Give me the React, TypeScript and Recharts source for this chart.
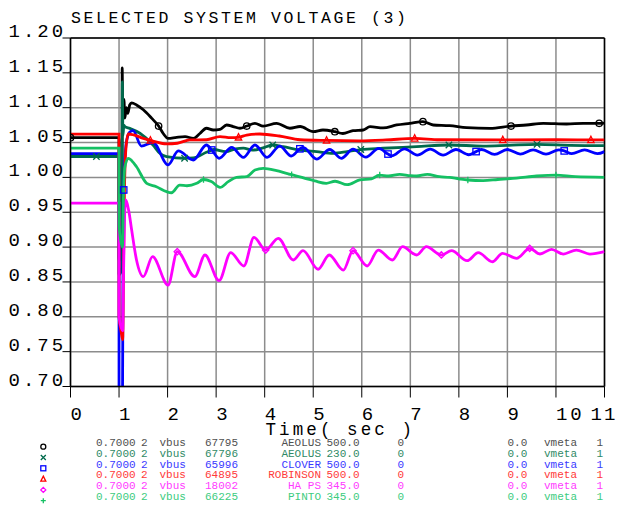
import React from "react";
import { LineChart, Line, XAxis, YAxis, CartesianGrid, ReferenceLine, Legend } from "recharts";

const TITLE = "SELECTED SYSTEM VOLTAGE (3)";
const X_LABEL = "Time( sec )";
const xTicks = [0, 1, 2, 3, 4, 5, 6, 7, 8, 9, 10, 11];
const yTicks = [0.7, 0.75, 0.8, 0.85, 0.9, 0.95, 1.0, 1.05, 1.1, 1.15, 1.2];

type P = [number, number];

// AEOLUS 500.0 (black, circles)
const aeolus500: P[] = [
  [0, 1.057], [0.999, 1.057], [1.0, 0.88], [1.06, 0.9], [1.065, 1.157], [1.075, 1.09], [1.1, 1.112],
  [1.12, 1.085], [1.15, 1.1], [1.18, 1.092], [1.22, 1.104], [1.26, 1.107], [1.36, 1.104], [1.5, 1.097],
  [1.67, 1.085], [1.815, 1.0737], [1.91, 1.063], [2.01, 1.056], [2.185, 1.0575], [2.36, 1.0585],
  [2.53, 1.056], [2.665, 1.063], [2.8, 1.0705], [2.94, 1.068], [3.08, 1.069], [3.215, 1.0752],
  [3.35, 1.073], [3.49, 1.0705], [3.63, 1.0737], [3.8, 1.0776], [3.97, 1.0735], [4.245, 1.0776],
  [4.52, 1.0705], [4.73, 1.073], [5.0, 1.0656], [5.2, 1.068], [5.445, 1.0656], [5.61, 1.063],
  [5.82, 1.067], [6.03, 1.068], [6.17, 1.0728], [6.44, 1.071], [6.72, 1.0752], [6.99, 1.0776],
  [7.26, 1.08], [7.47, 1.0752], [7.81, 1.0743], [8.16, 1.0714], [8.64, 1.0704], [9.075, 1.0737],
  [9.39, 1.0752], [9.74, 1.0776], [10.22, 1.0766], [10.56, 1.0776], [10.89, 1.0776], [11.0, 1.078],
];
const aeolus500Marks = [0, 1.815, 3.63, 5.445, 7.26, 9.075, 10.89];

// AEOLUS 230.0 (dark green, x)
const aeolus230: P[] = [
  [0, 1.03], [0.534, 1.03], [0.999, 1.03], [1.0, 0.86], [1.06, 0.87], [1.068, 1.137], [1.08, 1.06],
  [1.1, 1.075], [1.12, 1.0728], [1.22, 1.0704], [1.43, 1.0633], [1.7, 1.0465], [1.84, 1.0346],
  [1.98, 1.0297], [2.35, 1.0275], [2.53, 1.028], [2.8, 1.036], [2.95, 1.04], [3.2, 1.037], [3.4, 1.041],
  [3.56, 1.042], [3.75, 1.039], [3.95, 1.042], [4.165, 1.0465], [4.38, 1.044], [4.72, 1.0393],
  [5.07, 1.037], [5.41, 1.0346], [5.7, 1.037], [5.98, 1.04], [6.44, 1.0418], [7.13, 1.0441],
  [7.795, 1.0465], [8.5, 1.045], [9.0, 1.046], [9.61, 1.0475], [10.3, 1.046], [11.0, 1.0455],
];
const aeolus230Marks = [0.534, 2.35, 4.165, 5.98, 7.795, 9.61];

// CLOVER 500.0 (blue, squares)
const clover500: P[] = [
  [0, 1.034], [0.999, 1.034], [1.0, 0.66], [1.07, 0.66], [1.08, 0.85], [1.096, 0.982], [1.15, 1.05],
  [1.22, 1.065], [1.29, 1.067], [1.46, 1.045], [1.7, 1.05], [2.01, 1.018], [2.22, 1.038], [2.53, 1.025],
  [2.8, 1.0465], [2.91, 1.0393], [3.06, 1.0274], [3.32, 1.043], [3.56, 1.0288], [3.8, 1.0465],
  [4.05, 1.0288], [4.31, 1.045], [4.55, 1.0307], [4.725, 1.041], [4.79, 1.0432], [5.07, 1.0262],
  [5.34, 1.04], [5.58, 1.0274], [5.82, 1.0405], [6.085, 1.029], [6.35, 1.0415], [6.54, 1.0335],
  [6.615, 1.031], [6.88, 1.041], [7.145, 1.032], [7.41, 1.0405], [7.675, 1.032], [7.94, 1.04],
  [8.205, 1.0325], [8.355, 1.037], [8.47, 1.04], [8.735, 1.033], [9.0, 1.04], [9.265, 1.0335],
  [9.53, 1.0395], [9.795, 1.0335], [10.06, 1.0395], [10.17, 1.038], [10.325, 1.034], [10.59, 1.0395],
  [10.855, 1.034], [11.0, 1.037],
];
const clover500Marks = [1.096, 2.91, 4.725, 6.54, 8.355, 10.17];

// ROBINSON 500.0 (red, triangles)
const robinson500: P[] = [
  [0, 1.062], [0.999, 1.062], [1.0, 0.8], [1.04, 0.78], [1.075, 0.767], [1.09, 0.86], [1.11, 0.975],
  [1.14, 1.04], [1.19, 1.0623], [1.3, 1.061], [1.5, 1.056], [1.646, 1.053], [1.98, 1.048], [2.2, 1.049],
  [2.46, 1.0537], [2.8, 1.054], [3.08, 1.0585], [3.3, 1.057], [3.46, 1.0575], [3.63, 1.0608],
  [3.9, 1.0623], [4.3, 1.0594], [4.73, 1.054], [5.275, 1.053], [5.95, 1.0525], [6.5, 1.0537],
  [7.09, 1.056], [7.6, 1.054], [8.905, 1.0537], [10.0, 1.054], [10.72, 1.0537], [11.0, 1.0537],
];
const robinson500Marks = [1.646, 3.46, 5.275, 7.09, 8.905, 10.72];

// HA PS 345.0 (magenta, diamonds)
const haPs345: P[] = [
  [0, 0.963], [0.999, 0.963], [1.0, 0.8], [1.075, 0.78], [1.09, 0.85], [1.12, 0.955], [1.14, 0.9676],
  [1.2, 0.952], [1.26, 0.9245], [1.36, 0.8815], [1.5, 0.8576], [1.69, 0.8862], [2.01, 0.8456],
  [2.2, 0.8934], [2.56, 0.8576], [2.77, 0.8887], [3.06, 0.8518], [3.3, 0.892], [3.57, 0.8729],
  [3.78, 0.914], [4.02, 0.8958], [4.28, 0.9126], [4.59, 0.8815], [4.79, 0.8949], [5.1, 0.8682],
  [5.33, 0.8887], [5.62, 0.867], [5.82, 0.8949], [6.11, 0.8729], [6.34, 0.8958], [6.63, 0.8815],
  [6.84, 0.9006], [7.13, 0.8887], [7.33, 0.9006], [7.64, 0.8887], [7.85, 0.8949], [8.17, 0.8805],
  [8.4, 0.892], [8.69, 0.879], [8.9, 0.8911], [9.19, 0.8839], [9.46, 0.8983], [9.67, 0.8901],
  [9.91, 0.8968], [10.15, 0.89], [10.42, 0.8958], [10.7, 0.89], [11.0, 0.8934],
];
const haPs345Marks = [2.2, 4.02, 5.82, 7.64, 9.46];

// PINTO 345.0 (green, plus)
const pinto345: P[] = [
  [0, 1.042], [0.999, 1.042], [1.0, 0.93], [1.07, 0.9], [1.09, 0.97], [1.12, 1.015], [1.19, 1.0274],
  [1.26, 1.024], [1.36, 1.0153], [1.57, 0.9915], [1.77, 0.9867], [1.98, 0.9795], [2.08, 0.978],
  [2.25, 0.989], [2.4, 0.988], [2.6, 0.9915], [2.74, 0.997], [2.9, 0.994], [3.08, 0.9857],
  [3.25, 0.9939], [3.42, 1.0001], [3.63, 1.001], [3.8, 1.0106], [3.97, 1.013], [4.245, 1.0097],
  [4.45, 1.0058], [4.555, 1.004], [5.03, 0.995], [5.27, 0.9915], [5.45, 0.9945], [5.7, 0.9895],
  [5.96, 0.9963], [6.2, 0.998], [6.37, 1.0034], [6.55, 1.002], [6.78, 1.0044], [7.0, 1.0025],
  [7.13, 1.002], [7.35, 1.0044], [7.6, 1.001], [7.81, 1.0001], [8.0, 0.998], [8.185, 0.9963],
  [8.5, 0.9955], [8.8, 0.997], [9.19, 0.999], [9.6, 1.002], [10.0, 1.0034], [10.4, 1.001], [11.0, 1.0001],
];
const pinto345Marks = [2.74, 4.555, 6.37, 8.185, 10.0];

const busNumbers = ["67795", "67796", "65996", "64895", "18002", "66225"];
const busNames = ["AEOLUS", "AEOLUS", "CLOVER", "ROBINSON", "HA PS", "PINTO"];
const baseKv = ["500.0", "230.0", "500.0", "500.0", "345.0", "345.0"];

type Shape = "circle" | "x" | "square" | "triangle" | "diamond" | "plus";

const series: { key: string; data: P[]; marks: number[]; color: string; text: string; shape: Shape }[] = [
  { key: "aeolus500", data: aeolus500, marks: aeolus500Marks, color: "#000000", text: "#505050", shape: "circle" },
  { key: "aeolus230", data: aeolus230, marks: aeolus230Marks, color: "#006a4c", text: "#2f8a66", shape: "x" },
  { key: "clover500", data: clover500, marks: clover500Marks, color: "#0000ff", text: "#3a3aff", shape: "square" },
  { key: "robinson500", data: robinson500, marks: robinson500Marks, color: "#ff0000", text: "#ff3a3a", shape: "triangle" },
  { key: "haPs345", data: haPs345, marks: haPs345Marks, color: "#ff00ff", text: "#ff3aff", shape: "diamond" },
  { key: "pinto345", data: pinto345, marks: pinto345Marks, color: "#14c063", text: "#3ccc80", shape: "plus" },
];

const yMinor: number[] = [];
for (let i = 0; i <= 100; i++) yMinor.push(Math.round((0.7 + i * 0.005) * 1000) / 1000);
const xMinor: number[] = [];
for (let i = 0; i <= 110; i++) xMinor.push(i / 10);

const FONT = "'Liberation Mono', 'DejaVu Sans Mono', monospace";
const TINY = 0.001;

function Marker({ shape, cx, cy, color, s = 3.2 }: { shape: Shape; cx: number; cy: number; color: string; s?: number }) {
  const common = { fill: "none", stroke: color, strokeWidth: 1.3 };
  switch (shape) {
    case "circle":
      return <circle cx={cx} cy={cy} r={s} {...common} />;
    case "x":
      return <path d={`M${cx - s},${cy - s}L${cx + s},${cy + s}M${cx - s},${cy + s}L${cx + s},${cy - s}`} {...common} />;
    case "square":
      return <rect x={cx - s} y={cy - s} width={2 * s} height={2 * s} {...common} />;
    case "triangle":
      return <path d={`M${cx},${cy - s - 0.5}L${cx + s},${cy + s - 0.5}L${cx - s},${cy + s - 0.5}Z`} {...common} />;
    case "diamond":
      return <path d={`M${cx},${cy - s}L${cx + s},${cy}L${cx},${cy + s}L${cx - s},${cy}Z`} {...common} />;
    case "plus":
    default:
      return <path d={`M${cx - s},${cy}L${cx + s},${cy}M${cx},${cy - s}L${cx},${cy + s}`} {...common} />;
  }
}

const makeDot = (marks: number[], shape: Shape, color: string) => (props: any) => {
  const { cx, cy, payload, index } = props;
  if (!payload || !marks.some((m) => Math.abs(m - payload.t) < 1e-9)) return <g key={`d${index}`} />;
  return (
    <g key={`d${index}`}>
      <Marker shape={shape} cx={cx} cy={cy} color={color} />
    </g>
  );
};

const YTick = (props: any) => {
  const { x, y, payload } = props;
  return (
    <text x={x - 54} y={y - 1} fontFamily={FONT} fontSize={19} letterSpacing={3} fill="#000" textAnchor="start">
      {Number(payload.value).toFixed(2)}
    </text>
  );
};

const XTick = (props: any) => {
  const { x, y, payload } = props;
  const last = payload.value === xTicks[xTicks.length - 1];
  return (
    <text x={last ? x - 14 : x} y={y + 22.5} fontFamily={FONT} fontSize={19} letterSpacing={last ? 2 : 3} fill="#000" textAnchor="start">
      {String(payload.value)}
    </text>
  );
};

const colX = { val: 96, two: 141, vbus: 159.5, num: 205, nameEnd: 321, kv: 326.5, zero: 397.5, zz: 507.5, vmeta: 544, one: 596.5 };

const LegendContent = () => (
  <svg width={619} height={73} style={{ display: "block" }}>
    {series.map((s, i) => {
      const by = 10 + i * 10.8;
      return (
        <g key={s.key} fontFamily={FONT} fontSize={11} fill={s.text}>
          <Marker shape={s.shape} cx={43.3} cy={by + 0.7} color={s.color} s={2.5} />
          <text x={colX.val} y={by}>0.7000</text>
          <text x={colX.two} y={by}>2</text>
          <text x={colX.vbus} y={by}>vbus</text>
          <text x={colX.num} y={by}>{busNumbers[i]}</text>
          <text x={colX.nameEnd} y={by} textAnchor="end">{busNames[i]}</text>
          <text x={colX.kv} y={by}>{baseKv[i]}</text>
          <text x={colX.zero} y={by}>0</text>
          <text x={colX.zz} y={by}>0.0</text>
          <text x={colX.vmeta} y={by}>vmeta</text>
          <text x={colX.one} y={by}>1</text>
        </g>
      );
    })}
  </svg>
);

export default function App() {
  return (
    <div style={{ position: "absolute", left: 0, top: 0, width: 619, height: 509, background: "#fff" }}>
      <LineChart width={619} height={509} margin={{ top: 38, right: 14.5, bottom: 122.5 - 2 * TINY, left: 70.5 - 2 * TINY }}>
        <CartesianGrid stroke="#8c8c8c" strokeWidth={1.5} />
        <XAxis
          dataKey="t"
          type="number"
          domain={[0, 11]}
          ticks={xTicks}
          allowDataOverflow
          height={TINY}
          tickSize={11}
          tickMargin={0}
          axisLine={{ stroke: "#000", strokeWidth: 1.5 }}
          tickLine={{ stroke: "#000", strokeWidth: 1 }}
          tick={<XTick />}
          interval={0}
        />
        <XAxis
          xAxisId="minor"
          dataKey="t"
          type="number"
          domain={[0, 11]}
          ticks={xMinor}
          height={TINY}
          tickSize={6}
          tickMargin={0}
          axisLine={false}
          tickLine={{ stroke: "#000", strokeWidth: 1 }}
          tick={false}
          interval={0}
        />
        <YAxis
          type="number"
          domain={[0.7, 1.2]}
          ticks={yTicks}
          allowDataOverflow
          width={TINY}
          tickSize={8}
          tickMargin={0}
          axisLine={{ stroke: "#000", strokeWidth: 1.5 }}
          tickLine={{ stroke: "#000", strokeWidth: 1 }}
          tick={<YTick />}
          interval={0}
        />
        <YAxis
          yAxisId="minor"
          type="number"
          domain={[0.7, 1.2]}
          ticks={yMinor}
          width={TINY}
          tickSize={4}
          tickMargin={0}
          axisLine={false}
          tickLine={{ stroke: "#000", strokeWidth: 1 }}
          tick={false}
          interval={0}
        />
        <ReferenceLine y={1.2} stroke="#000" strokeWidth={1.5} />
        <ReferenceLine x={11} stroke="#000" strokeWidth={1.5} />
        {series.map((s) => (
          <Line
            key={s.key}
            data={s.data.map(([t, v]) => ({ t, v }))}
            dataKey="v"
            type="monotone"
            stroke={s.color}
            strokeWidth={2.8}
            dot={makeDot(s.marks, s.shape, s.color)}
            activeDot={false}
            isAnimationActive={false}
          />
        ))}
        <Legend
          layout="horizontal"
          verticalAlign="middle"
          align="center"
          content={<LegendContent />}
          wrapperStyle={{ position: "absolute", left: 0, top: 436, width: 619, height: 73, margin: 0, padding: 0 }}
        />
      </LineChart>
      <svg width={619} height={509} style={{ position: "absolute", left: 0, top: 0, pointerEvents: "none" }}>
        <text x={71} y={22.7} fontFamily={FONT} fontSize={16.5} letterSpacing={2.6} fill="#000">{TITLE}</text>
        <text x={265.5} y={434.5} fontFamily={FONT} fontSize={17.5} letterSpacing={3.1} fill="#000">{X_LABEL}</text>
      </svg>
    </div>
  );
}
